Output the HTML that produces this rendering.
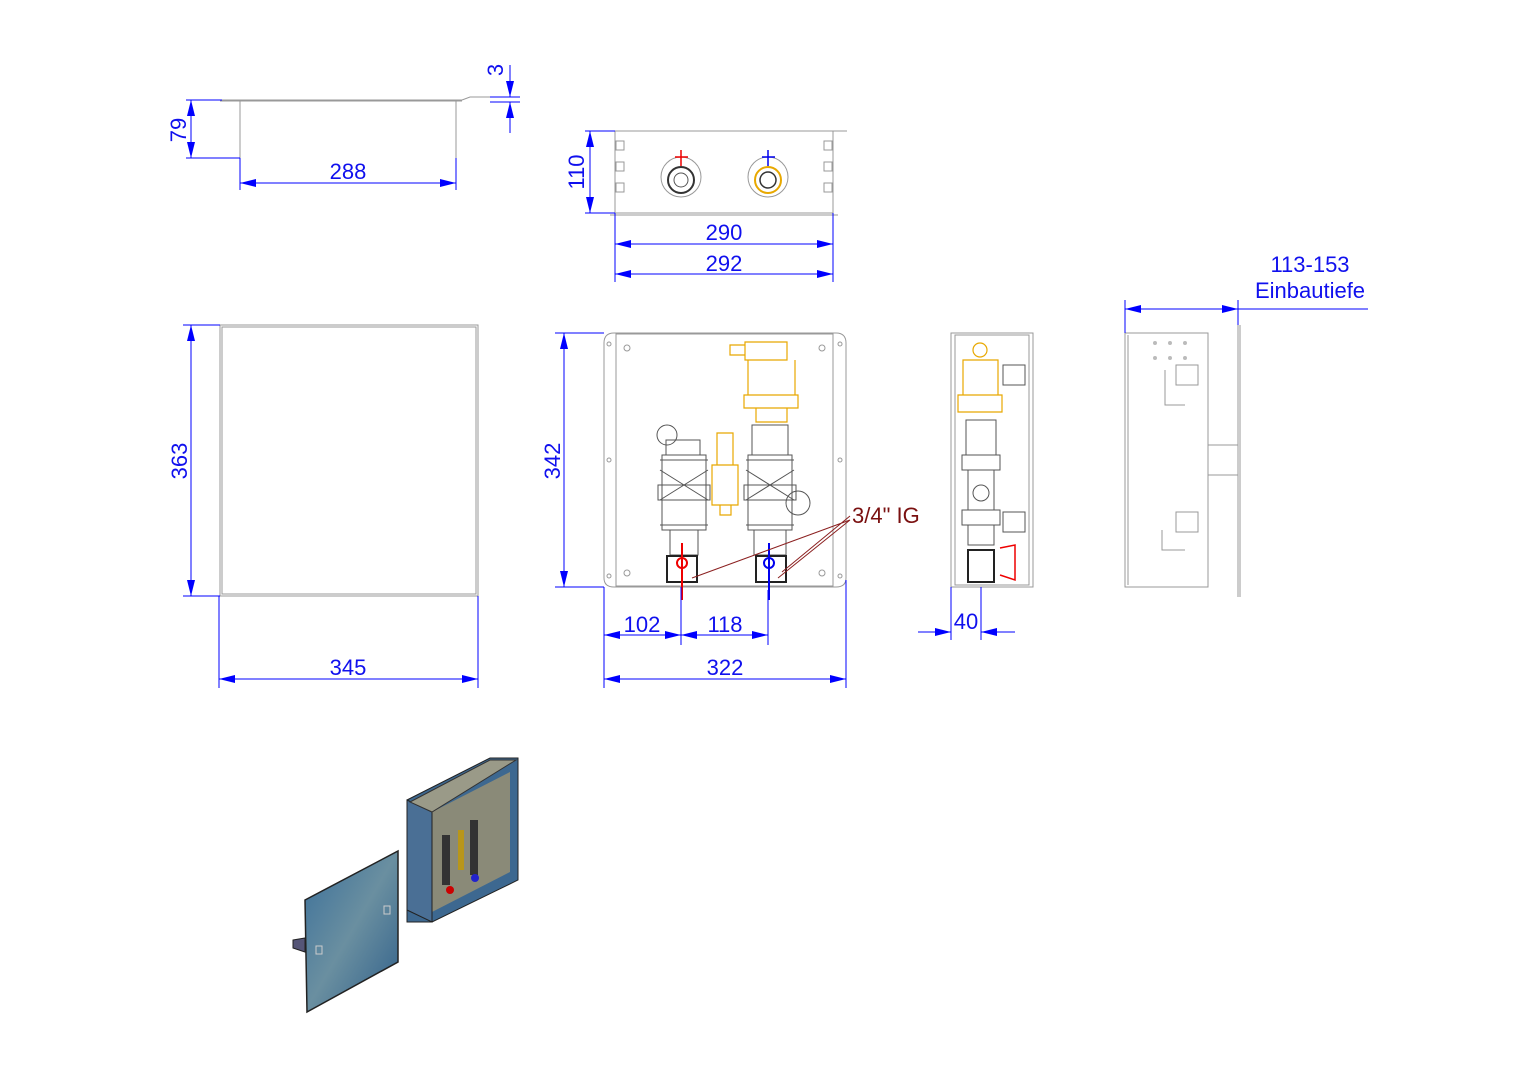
<!DOCTYPE html>
<html><head><meta charset="utf-8"><style>
html,body{margin:0;padding:0;background:#fff;}
svg{display:block;}
text{font-family:"Liberation Sans",sans-serif;}
.d{stroke:#0000ff;stroke-width:1;fill:none}
.g{stroke:#999;stroke-width:1;fill:none}
.k{stroke:#555;stroke-width:1;fill:none}
.y{stroke:#e8a800;stroke-width:1.2;fill:none}
.t{fill:#1010ee;font-size:22px}
</style></head><body>
<svg width="1534" height="1080" viewBox="0 0 1534 1080" xmlns="http://www.w3.org/2000/svg">
<defs>
<marker id="a" viewBox="0 0 16 8" refX="16" refY="4" markerWidth="16" markerHeight="8" orient="auto-start-reverse" markerUnits="userSpaceOnUse"><path d="M0,0L16,4L0,8z" fill="#0000ff"/></marker>
</defs>

<!-- lid side view -->
<path class="g" d="M220,100H462 M220,101H462 M462,100L470,97H520 M240,100V158 M456,100V158"/>
<path class="d" d="M186,100H222 M186,158H240"/>
<line class="d" x1="191" y1="100" x2="191" y2="158" marker-start="url(#a)" marker-end="url(#a)"/>
<line class="d" x1="240" y1="158" x2="240" y2="190"/><line class="d" x1="456" y1="158" x2="456" y2="190"/>
<line class="d" x1="240" y1="183" x2="456" y2="183" marker-start="url(#a)" marker-end="url(#a)"/>
<text class="t" x="348" y="179" text-anchor="middle">288</text>
<text class="t" transform="translate(186,130) rotate(-90)" text-anchor="middle">79</text>
<path class="d" d="M490,97H520 M490,102H520"/>
<line class="d" x1="510" y1="65" x2="510" y2="97" marker-end="url(#a)"/>
<line class="d" x1="510" y1="133" x2="510" y2="102" marker-end="url(#a)"/>
<text class="t" transform="translate(503,70) rotate(-90)" text-anchor="middle">3</text>

<!-- top view box -->
<rect class="g" x="615" y="131" width="218" height="82"/>
<path class="g" d="M833,131H847 M610,215H838"/>
<g class="g"><rect x="616" y="141" width="8" height="9"/><rect x="616" y="162" width="8" height="9"/><rect x="616" y="183" width="8" height="9"/>
<rect x="824" y="141" width="8" height="9"/><rect x="824" y="162" width="8" height="9"/><rect x="824" y="183" width="8" height="9"/></g>
<circle cx="681" cy="177" r="20" class="g"/><circle cx="681" cy="180" r="13" fill="none" stroke="#333" stroke-width="2"/><circle cx="681" cy="180" r="7" class="k"/>
<circle cx="768" cy="177" r="20" class="g"/><circle cx="768" cy="180" r="13" fill="none" stroke="#e8a800" stroke-width="2"/><circle cx="768" cy="180" r="8" fill="none" stroke="#333" stroke-width="1.5"/>
<path d="M681,150V166 M675,157H688" stroke="#e00" stroke-width="1.5"/><path d="M768,150V166 M762,157H775" stroke="#00e" stroke-width="1.5"/>
<path class="d" d="M585,131H615 M585,213H615"/>
<line class="d" x1="590" y1="131" x2="590" y2="213" marker-start="url(#a)" marker-end="url(#a)"/>
<text class="t" transform="translate(584,172) rotate(-90)" text-anchor="middle">110</text>
<path class="d" d="M615,213V282 M833,213V282"/>
<line class="d" x1="615" y1="244" x2="833" y2="244" marker-start="url(#a)" marker-end="url(#a)"/>
<line class="d" x1="615" y1="274" x2="833" y2="274" marker-start="url(#a)" marker-end="url(#a)"/>
<text class="t" x="724" y="240" text-anchor="middle">290</text>
<text class="t" x="724" y="271" text-anchor="middle">292</text>

<!-- lid front -->
<rect class="g" x="220" y="325" width="258" height="271"/>
<rect class="g" x="222" y="327" width="254" height="267"/>
<path class="d" d="M183,325H220 M183,596H220"/>
<line class="d" x1="191" y1="325" x2="191" y2="596" marker-start="url(#a)" marker-end="url(#a)"/>
<text class="t" transform="translate(187,461) rotate(-90)" text-anchor="middle">363</text>
<path class="d" d="M219,596V688 M478,596V688"/>
<line class="d" x1="219" y1="679" x2="478" y2="679" marker-start="url(#a)" marker-end="url(#a)"/>
<text class="t" x="348" y="675" text-anchor="middle">345</text>

<!-- box front -->
<path class="g" d="M614,333H836Q846,333 846,343V578Q846,587 836,587H614Q604,587 604,578V343Q604,333 614,333Z"/>
<rect class="g" x="616" y="334" width="217" height="252"/>
<g class="g"><circle cx="627" cy="348" r="3"/><circle cx="822" cy="348" r="3"/><circle cx="627" cy="573" r="3"/><circle cx="822" cy="573" r="3"/><circle cx="609" cy="344" r="2"/><circle cx="609" cy="460" r="2"/><circle cx="609" cy="576" r="2"/><circle cx="840" cy="344" r="2"/><circle cx="840" cy="460" r="2"/><circle cx="840" cy="576" r="2"/></g>
<g class="y"><path d="M730,345H745V355H730Z M745,342H787V360H745Z M748,360V395H795V360 M744,395H798V408H744Z M756,408H787V422H756Z"/>
<path d="M717,433H733V465H717Z M712,465H738V505H712Z M720,505V515H731V505"/></g>
<g class="k">
<path d="M662,455H706V530H662Z M666,455V440H700V455 M658,485H710V500H658Z M660,460H708 M660,525H708 M670,530V555H698V530"/>
<path d="M660,470L708,500 M660,500L708,470"/>
<path d="M748,455H792V530H748Z M752,455V425H788V455 M744,485H796V500H744Z M746,460H794 M746,525H794 M754,530V555H786V530"/>
<path d="M746,470L794,500 M746,500L794,470"/>
<circle cx="667" cy="435" r="10"/><circle cx="798" cy="503" r="12"/>
<rect x="667" y="556" width="30" height="26" stroke="#222" stroke-width="2"/><rect x="756" y="556" width="30" height="26" stroke="#222" stroke-width="2"/>
</g>
<path d="M682,543V600" stroke="#e00" stroke-width="2"/><circle cx="682" cy="563" r="5" fill="none" stroke="#e00" stroke-width="2"/>
<path d="M769,543V600" stroke="#00e" stroke-width="2"/><circle cx="769" cy="563" r="5" fill="none" stroke="#00e" stroke-width="2"/>
<path d="M692,578L850,520 M778,578L850,520 M782,572L850,516" stroke="#8b2020" stroke-width="1" fill="none"/>
<text x="852" y="523" font-size="22" fill="#7a1010">3/4" IG</text>
<path class="d" d="M555,333H604 M555,587H604"/>
<line class="d" x1="564" y1="333" x2="564" y2="587" marker-start="url(#a)" marker-end="url(#a)"/>
<text class="t" transform="translate(560,461) rotate(-90)" text-anchor="middle">342</text>
<path class="d" d="M604,587V688 M846,580V688 M681,587V645 M768,590V645"/>
<line class="d" x1="604" y1="635" x2="681" y2="635" marker-start="url(#a)" marker-end="url(#a)"/>
<line class="d" x1="681" y1="635" x2="768" y2="635" marker-start="url(#a)" marker-end="url(#a)"/>
<line class="d" x1="604" y1="679" x2="846" y2="679" marker-start="url(#a)" marker-end="url(#a)"/>
<text class="t" x="642" y="632" text-anchor="middle">102</text>
<text class="t" x="725" y="632" text-anchor="middle">118</text>
<text class="t" x="725" y="675" text-anchor="middle">322</text>

<!-- side view -->
<rect class="g" x="951" y="333" width="82" height="254"/>
<rect class="g" x="955" y="335" width="74" height="250"/>
<g class="y"><circle cx="980" cy="350" r="7"/><path d="M963,360H998V395H963Z M958,395H1002V412H958Z"/></g>
<g class="k"><path d="M966,420H996V455H966Z M962,455H1000V470H962Z M968,470V510H994V470 M962,510H1000V525H962Z M968,525V545H994V525"/><circle cx="981" cy="493" r="8"/><rect x="968" y="550" width="26" height="32" stroke="#222" stroke-width="2"/><rect x="1003" y="365" width="22" height="20"/><rect x="1003" y="512" width="22" height="20"/></g>
<path d="M1000,548L1015,545V580L1000,575" stroke="#e00" stroke-width="1.5" fill="none"/>
<path class="d" d="M951,587V640 M981,587V640"/>
<line class="d" x1="918" y1="632" x2="951" y2="632" marker-end="url(#a)"/>
<line class="d" x1="1015" y1="632" x2="981" y2="632" marker-end="url(#a)"/>
<text class="t" x="966" y="629" text-anchor="middle">40</text>

<!-- right side view -->
<rect class="g" x="1125" y="333" width="83" height="254"/>
<path class="g" d="M1128,335V585 M1208,445H1238V475H1208 M1238,325V597 M1240,325V597"/>
<g class="g"><rect x="1176" y="365" width="22" height="20"/><rect x="1176" y="512" width="22" height="20"/><path d="M1165,370V405H1185 M1162,530V550H1185"/></g>
<g fill="#bbb"><circle cx="1155" cy="343" r="2"/><circle cx="1170" cy="343" r="2"/><circle cx="1185" cy="343" r="2"/><circle cx="1170" cy="358" r="2"/><circle cx="1185" cy="358" r="2"/><circle cx="1155" cy="358" r="2"/></g>
<path class="d" d="M1125,300V333 M1238,300V325 M1238,309H1368"/>
<line class="d" x1="1125" y1="309" x2="1238" y2="309" marker-start="url(#a)" marker-end="url(#a)"/>
<text class="t" x="1310" y="272" text-anchor="middle">113-153</text>
<text class="t" x="1310" y="298" text-anchor="middle">Einbautiefe</text>

<!-- isometric -->
<defs><linearGradient id="bl" x1="0" y1="0" x2="1" y2="1"><stop offset="0" stop-color="#3a6f9a"/><stop offset="0.5" stop-color="#6a8fa0"/><stop offset="1" stop-color="#2f5f8a"/></linearGradient></defs>
<path d="M407,800L490,758H518V880L432,922H407Z" fill="#3d6890" stroke="#222"/>
<path d="M432,812L510,772V872L432,912Z" fill="#8a8a78"/>
<path d="M407,800L432,812V922L407,910Z" fill="#4a6f95" stroke="#222"/>
<path d="M410,802L490,760H516L432,812Z" fill="#9a9a88" stroke="#333"/>
<g fill="#333"><rect x="442" y="835" width="8" height="50"/><rect x="470" y="820" width="8" height="55"/><rect x="458" y="830" width="6" height="40" fill="#b8961a"/></g>
<circle cx="450" cy="890" r="4" fill="#c00"/><circle cx="475" cy="878" r="4" fill="#22c"/>
<path d="M305,900L398,851V962L307,1012Z" fill="url(#bl)" stroke="#222" stroke-width="1.5"/>
<path d="M293,940L305,938V952L293,948Z" fill="#557" stroke="#222"/>
<rect x="384" y="906" width="6" height="8" fill="none" stroke="#ccc"/><rect x="316" y="946" width="6" height="8" fill="none" stroke="#ccc"/>
</svg>
</body></html>
